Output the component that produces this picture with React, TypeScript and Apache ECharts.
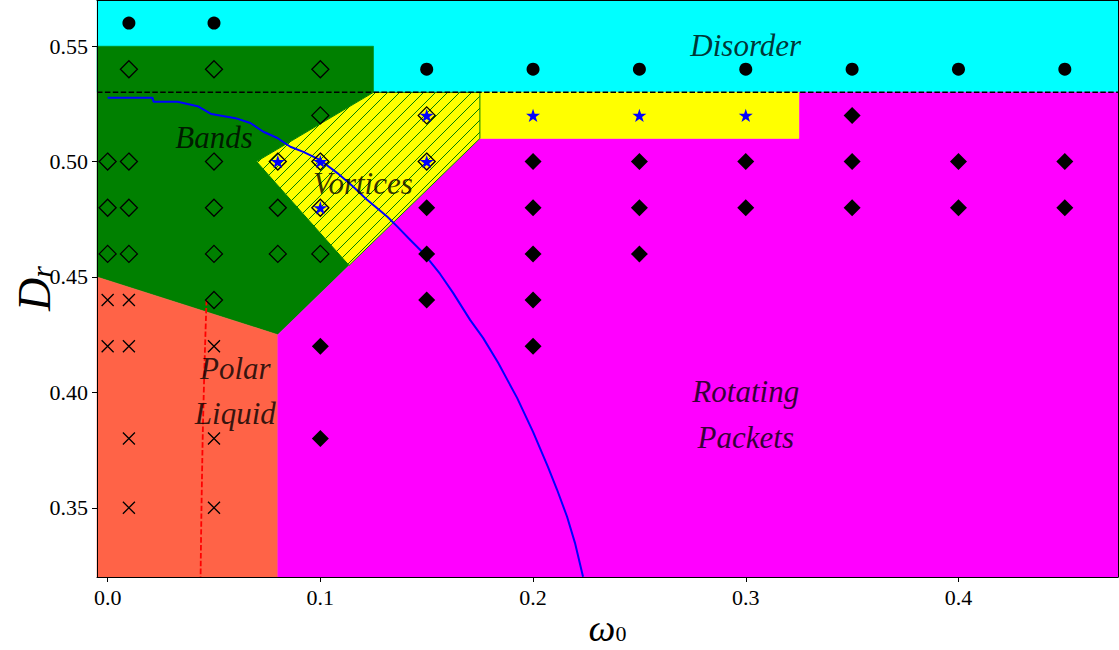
import React, { useEffect, useRef } from 'react';
import * as echarts from 'echarts';

// axis ticks
const xTicks = [0, 0.1, 0.2, 0.3, 0.4];
const yTicks = [0.35, 0.4, 0.45, 0.5, 0.55];
const xRange = [-0.005, 0.475];
const yRange = [0.32, 0.57];

// phase regions (omega0, Dr)
const disorderRegion = [[-0.005, 0.53], [0.475, 0.53], [0.475, 0.57], [-0.005, 0.57]];
const bandsRegion = [[-0.005, 0.55], [0.125, 0.55], [0.125, 0.53], [0.07, 0.5], [0.1135, 0.455], [0.08, 0.425], [-0.005, 0.45]];
const polarRegion = [[-0.005, 0.32], [0.08, 0.32], [0.08, 0.425], [-0.005, 0.45]];
const rotatingRegion = [[0.08, 0.32], [0.475, 0.32], [0.475, 0.53], [0.325, 0.53], [0.325, 0.51], [0.175, 0.51], [0.08, 0.425]];
const vorticesRect = [[0.175, 0.51], [0.325, 0.51], [0.325, 0.53], [0.175, 0.53]];
const vorticesHatched = [[0.125, 0.53], [0.175, 0.53], [0.175, 0.51], [0.1135, 0.455], [0.07, 0.5]];

// boundary line
const disorderLine = [[-0.005, 0.53], [0.475, 0.53]];

// simulation points
const disorderPts = [[0.01, 0.56], [0.05, 0.56], [0.15, 0.54], [0.2, 0.54], [0.25, 0.54], [0.3, 0.54], [0.35, 0.54], [0.4, 0.54], [0.45, 0.54]];
const bandsPts = [
  [0.01, 0.54], [0.05, 0.54], [0.1, 0.54], [0.1, 0.52],
  [0, 0.5], [0.01, 0.5], [0.05, 0.5], [0.08, 0.5], [0.1, 0.5], [0.15, 0.52], [0.15, 0.5],
  [0, 0.48], [0.01, 0.48], [0.05, 0.48], [0.08, 0.48], [0.1, 0.48],
  [0, 0.46], [0.01, 0.46], [0.05, 0.46], [0.08, 0.46], [0.1, 0.46], [0.05, 0.44],
];
const vortexPts = [[0.08, 0.5], [0.1, 0.5], [0.1, 0.48], [0.15, 0.52], [0.15, 0.5], [0.2, 0.52], [0.25, 0.52], [0.3, 0.52]];
const rotatingPts = [
  [0.35, 0.52],
  [0.2, 0.5], [0.25, 0.5], [0.3, 0.5], [0.35, 0.5], [0.4, 0.5], [0.45, 0.5],
  [0.15, 0.48], [0.2, 0.48], [0.25, 0.48], [0.3, 0.48], [0.35, 0.48], [0.4, 0.48], [0.45, 0.48],
  [0.15, 0.46], [0.2, 0.46], [0.25, 0.46], [0.15, 0.44], [0.2, 0.44],
  [0.1, 0.42], [0.2, 0.42], [0.1, 0.38],
];
const polarPts = [[0, 0.44], [0.01, 0.44], [0, 0.42], [0.01, 0.42], [0.05, 0.42], [0.01, 0.38], [0.05, 0.38], [0.01, 0.35], [0.05, 0.35]];

// theoretical curves
const blueCurve = [
  [0, 0.5276], [0.0211, 0.5276], [0.0216, 0.5259], [0.0329, 0.5259], [0.0423, 0.524], [0.0488, 0.5206],
  [0.0601, 0.5188], [0.0671, 0.5167], [0.0732, 0.5129], [0.0798, 0.5102], [0.0859, 0.5064], [0.092, 0.5042],
  [0.1, 0.5006], [0.108, 0.495], [0.1155, 0.4891], [0.1221, 0.4833], [0.1315, 0.4761], [0.1362, 0.4718],
  [0.1423, 0.466], [0.1484, 0.4604], [0.1563, 0.4513], [0.1624, 0.4431], [0.1704, 0.4314], [0.1765, 0.4236],
  [0.1836, 0.4128], [0.1925, 0.3976], [0.2, 0.3829], [0.207, 0.3677], [0.2113, 0.3578], [0.216, 0.3461],
  [0.2197, 0.3348], [0.2235, 0.3201],
];
const redCurve = [[0.0465, 0.44], [0.0452, 0.4], [0.0443, 0.36], [0.0437, 0.32]];

// phase labels
const phaseLabels = [
  { name: 'Disorder', value: [0.3, 0.5505] },
  { name: 'Bands', value: [0.05, 0.5106] },
  { name: 'Vortices', value: [0.12, 0.4906] },
  { name: 'Polar', value: [0.06, 0.4105] },
  { name: 'Liquid', value: [0.06, 0.391] },
  { name: 'Rotating', value: [0.3, 0.4005] },
  { name: 'Packets', value: [0.3, 0.3806] },
];

const SERIF = '"Liberation Serif", "DejaVu Serif", serif';
const STAR = 'path://M0,-10L2.245,-3.09L9.511,-3.09L3.633,1.18L5.878,8.09L0,3.82L-5.878,8.09L-3.633,1.18L-9.511,-3.09L-2.245,-3.09Z';
const CROSS = 'path://M0,0L10,10M10,0L0,10';

function regionSeries(pts: number[][], color: string, hatch = false, z = 1) {
  return {
    type: 'custom',
    coordinateSystem: 'cartesian2d',
    silent: true,
    z,
    data: [[0.2, 0.4]],
    renderItem: (_params: any, api: any) => {
      const poly = pts.map((p) => api.coord(p));
      const children: any[] = [
        {
          type: 'polygon',
          shape: { points: poly },
          style: { fill: color, stroke: hatch ? '#008000' : color, lineWidth: hatch ? 1 : 0.5 },
        },
      ];
      if (hatch) {
        const sums = poly.map((p: number[]) => p[0] + p[1]);
        const cmin = Math.min(...sums);
        const cmax = Math.max(...sums);
        const step = 12;
        for (let c = Math.ceil(cmin / step) * step; c <= cmax; c += step) {
          const hits: number[][] = [];
          for (let i = 0; i < poly.length; i++) {
            const A = poly[i];
            const B = poly[(i + 1) % poly.length];
            const fA = A[0] + A[1] - c;
            const fB = B[0] + B[1] - c;
            if ((fA < 0) !== (fB < 0)) {
              const t = fA / (fA - fB);
              hits.push([A[0] + (B[0] - A[0]) * t, A[1] + (B[1] - A[1]) * t]);
            }
          }
          if (hits.length >= 2) {
            children.push({
              type: 'line',
              shape: { x1: hits[0][0], y1: hits[0][1], x2: hits[1][0], y2: hits[1][1] },
              style: { stroke: '#008000', lineWidth: 1 },
            });
          }
        }
      }
      return { type: 'group', children };
    },
  };
}

export default function App() {
  const ref = useRef<HTMLDivElement>(null);
  useEffect(() => {
    if (!ref.current) return;
    const chart = echarts.init(ref.current, null, { renderer: 'svg' });
    const axisCommon = {
      type: 'value',
      splitLine: { show: false },
      axisLine: { show: true, onZero: false, lineStyle: { color: '#000', width: 1 } },
      z: 10,
    };
    chart.setOption({
      animation: false,
      backgroundColor: '#fff',
      grid: { left: 97, right: 1, top: 0, bottom: 73, containLabel: false, outerBoundsMode: 'none' },
      xAxis: [
        {
          ...axisCommon,
          min: xRange[0],
          max: xRange[1],
          axisTick: { show: true, customValues: xTicks, length: 5, lineStyle: { color: '#000' } },
          axisLabel: {
            customValues: xTicks,
            formatter: (v: number) => v.toFixed(1),
            fontFamily: SERIF,
            fontSize: 22,
            color: '#000',
            margin: 9,
          },
          name: '{a|ω}{b|0}',
          nameLocation: 'middle',
          nameGap: 32,
          nameMoveOverlap: false,
          nameTextStyle: {
            rich: {
              a: { fontFamily: SERIF, fontStyle: 'italic', fontSize: 38, lineHeight: 38, color: '#000' },
              b: { fontFamily: SERIF, fontSize: 22, lineHeight: 22, color: '#000', padding: [10, 0, 0, 0] },
            },
          },
        },
        {
          ...axisCommon,
          position: 'top',
          min: xRange[0],
          max: xRange[1],
          axisTick: { show: false },
          axisLabel: { show: false },
        },
      ],
      yAxis: [
        {
          ...axisCommon,
          min: yRange[0],
          max: yRange[1],
          axisTick: { show: true, customValues: yTicks, length: 5, lineStyle: { color: '#000' } },
          axisLabel: {
            customValues: yTicks,
            formatter: (v: number) => v.toFixed(2),
            fontFamily: SERIF,
            fontSize: 22,
            color: '#000',
            margin: 9,
          },
          name: '{a|D}{b|r}',
          nameLocation: 'middle',
          nameRotate: 90,
          nameGap: 40,
          nameMoveOverlap: false,
          nameTextStyle: {
            rich: {
              a: { fontFamily: SERIF, fontStyle: 'italic', fontSize: 46, lineHeight: 46, color: '#000' },
              b: { fontFamily: SERIF, fontStyle: 'italic', fontSize: 30, lineHeight: 30, color: '#000', padding: [14, 0, 0, 0] },
            },
          },
        },
        {
          ...axisCommon,
          position: 'right',
          min: yRange[0],
          max: yRange[1],
          axisTick: { show: false },
          axisLabel: { show: false },
        },
      ],
      series: [
        regionSeries(disorderRegion, '#00ffff', false, 1),
        regionSeries(bandsRegion, '#008000', false, 1),
        regionSeries(polarRegion, '#ff6347', false, 1),
        regionSeries(rotatingRegion, '#ff00ff', false, 1),
        regionSeries(vorticesRect, '#ffff00', false, 1),
        regionSeries(vorticesHatched, '#ffff00', true, 1),
        {
          type: 'line',
          data: disorderLine,
          symbol: 'none',
          z: 2,
          lineStyle: { color: '#000', width: 1.6, type: [5.5, 2.4], opacity: 1 },
        },
        {
          type: 'line',
          data: blueCurve,
          symbol: 'none',
          z: 2,
          lineStyle: { color: '#0000ff', width: 2, opacity: 1 },
        },
        {
          type: 'line',
          data: redCurve,
          symbol: 'none',
          smooth: true,
          z: 2,
          lineStyle: { color: '#ff0000', width: 1.8, type: [5.5, 2.4], opacity: 1 },
        },
        {
          type: 'scatter',
          data: disorderPts,
          symbol: 'circle',
          symbolSize: 13,
          z: 3,
          itemStyle: { color: '#000', opacity: 1 },
        },
        {
          type: 'scatter',
          data: bandsPts,
          symbol: 'diamond',
          symbolSize: 17,
          z: 3,
          itemStyle: { color: 'rgba(0,0,0,0)', borderColor: '#000', borderWidth: 1.3, opacity: 1 },
        },
        {
          type: 'scatter',
          data: rotatingPts,
          symbol: 'diamond',
          symbolSize: 17,
          z: 3,
          itemStyle: { color: '#000', opacity: 1 },
        },
        {
          type: 'scatter',
          data: vortexPts,
          symbol: STAR,
          symbolSize: 14,
          symbolKeepAspect: true,
          z: 4,
          itemStyle: { color: '#0000ff', opacity: 1 },
        },
        {
          type: 'scatter',
          data: polarPts,
          symbol: CROSS,
          symbolSize: 12,
          z: 3,
          itemStyle: { color: 'rgba(0,0,0,0)', borderColor: '#000', borderWidth: 1.3, opacity: 1 },
        },
        {
          type: 'scatter',
          data: phaseLabels,
          symbolSize: 0,
          z: 5,
          silent: true,
          label: {
            show: true,
            position: 'inside',
            formatter: '{b}',
            fontFamily: SERIF,
            fontStyle: 'italic',
            fontSize: 31,
            color: '#000',
          },
        },
      ],
    });
    return () => chart.dispose();
  }, []);
  return <div ref={ref} style={{ position: 'fixed', left: 0, top: 0, width: '1119px', height: '650px' }} />;
}
